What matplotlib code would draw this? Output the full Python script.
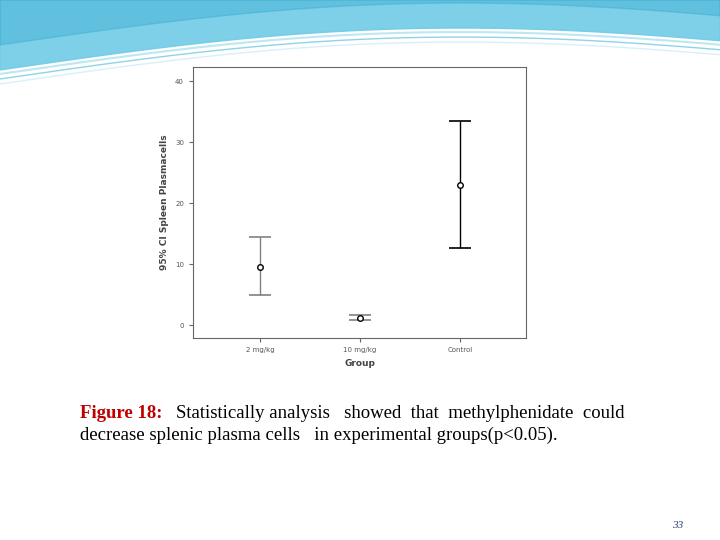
import numpy as np
import matplotlib
matplotlib.use("Agg")
import matplotlib.pyplot as plt

groups = ["2 mg/kg", "10 mg/kg", "Control"]
means = [9.6, 1.2, 23.0]
lower = [5.0, 0.9, 12.7]
upper = [14.4, 1.6, 33.4]
yticks = [0, 10, 20, 30, 40]

W, H = 720, 540
fig = plt.figure(figsize=(7.2, 5.4), dpi=100)

# decorative header
bg = fig.add_axes([0, 0, 1, 1])
bg.set_xlim(0, W); bg.set_ylim(H, 0); bg.axis("off")
x = np.linspace(0, W, 300)
top = 70 - 30 * np.sin(np.pi * x / W * 0.9) - 20 * (x / W)
bg.fill_between(x, 0, top, color="#6fcbe6", alpha=0.9)
for off, c, lw in [(4, "#bfe7f3", 1.5), (9, "#8fd3ea", 1.0), (14, "#d8f0f8", 1.0)]:
    bg.plot(x, top + off, color=c, lw=lw)
bg.fill_between(x, 0, top - 25, color="#35a9d0", alpha=0.4)
bg.add_patch(plt.Rectangle((157, 58), 376, 317, color="white", zorder=1))

ax = fig.add_axes([193 / W, 1 - 338 / H, (526 - 193) / W, (338 - 67) / H])
ax.set_zorder(2)
xs = np.arange(len(groups))
colors = ["#808080", "#808080", "black"]
for i in xs:
    ax.errorbar(i, means[i], yerr=[[means[i] - lower[i]], [upper[i] - means[i]]],
                fmt="o", mfc="white", mec="black", ms=4, color=colors[i],
                ecolor=colors[i], capsize=8, lw=1, capthick=1.2)
ax.set_xlim(-0.67, 2.66)
ax.set_ylim(-2.1, 42.3)
ax.set_yticks(yticks)
ax.set_yticklabels([str(t) for t in yticks], fontsize=5, color="#555555")
ax.set_xticks(xs)
ax.set_xticklabels(groups, fontsize=5, color="#555555")
ax.set_xlabel("Group", fontsize=6.5, fontweight="bold", color="#444444", labelpad=4)
ax.set_ylabel("95% CI Spleen Plasmacells", fontsize=6.5, fontweight="bold", color="#444444")
for s in ax.spines.values():
    s.set_color("#666666")
ax.tick_params(length=3, color="#666666")

fs = 13.5
fig.text(80 / W, 1 - 414 / H, "Figure 18:", color="#c00000", fontsize=fs,
         family="Liberation Serif", fontweight="bold", va="center")
fig.text(176 / W, 1 - 414 / H,
         "Statistically analysis   showed  that  methylphenidate  could",
         color="black", fontsize=fs, family="Liberation Serif", va="center")
fig.text(80 / W, 1 - 435 / H,
         "decrease splenic plasma cells   in experimental groups(p<0.05).",
         color="black", fontsize=fs, family="Liberation Serif", va="center")
fig.text(678 / W, 1 - 525 / H, "33", color="#1f3b73", fontsize=8,
         style="italic", family="Liberation Serif", va="center", ha="center")

fig.savefig("out.png", dpi=100)
